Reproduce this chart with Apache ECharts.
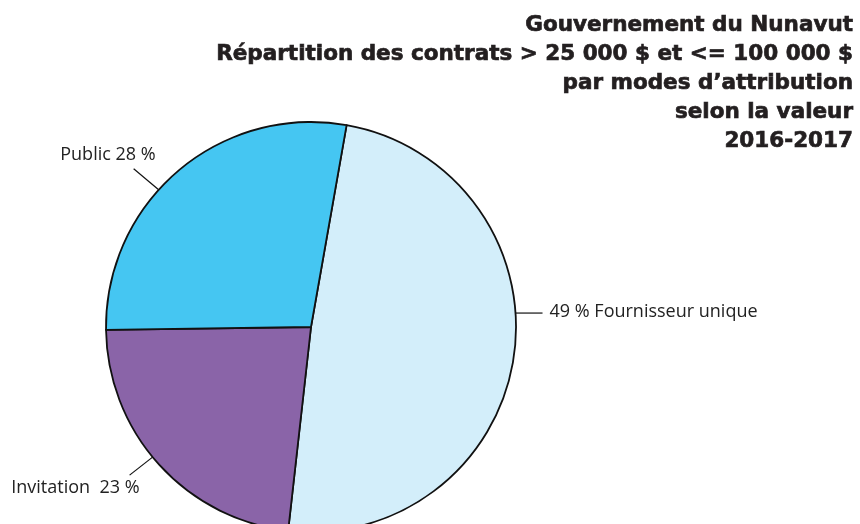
<!DOCTYPE html>
<html>
<head>
<meta charset="utf-8">
<script src="https://cdn.jsdelivr.net/npm/echarts@6/dist/echarts.min.js"></script>
<style>
html,body{margin:0;padding:0;background:#fff;}
#chart{width:860px;height:524px;}
</style>
</head>
<body>
<div id="chart"></div>
<script>
// ---- data ----
var titleLines = [
  'Gouvernement du Nunavut',
  'Répartition des contrats > 25 000 $ et <= 100 000 $',
  'par modes d\u2019attribution',
  'selon la valeur',
  '2016-2017'
];
var categories = ['Fournisseur unique', 'Invitation', 'Public'];
var shares = [49, 23, 28];           // %
var labelTemplates = ['{c} % {b}', '{b}  {c} %', '{b} {c} %'];

// ---- styles / layout ----
var colors = ['#d3eefa', '#8a64a8', '#45c6f2'];
var CX = 311, CY = 327, R = 205;
var labelPlace = [
  {ang: 3.9,   dx: 27,  dy: 0,   tx: 7,   ty: -1, align: 'left'},
  {ang: 219.4, dx: -23, dy: 18,  tx: 10,  ty: 13, align: 'right'},
  {ang: 138,   dx: -25, dy: -21, tx: 22,  ty: -14, align: 'right'}
];

var chart = echarts.init(document.getElementById('chart'), null, {renderer: 'canvas'});
var data = categories.map(function (c, i) {
  return {
    name: c, value: shares[i],
    itemStyle: {color: colors[i]},
    label: {formatter: labelTemplates[i]}
  };
});

chart.setOption({
  animation: false,
  backgroundColor: '#fff',
  graphic: [{
    type: 'text',
    x: 853, y: 11,
    silent: true,
    style: {
      text: titleLines.join('\n'),
      align: 'right', verticalAlign: 'top',
      font: 'bold 21.5px "DejaVu Sans"',
      lineHeight: 29,
      fill: '#231f20',
      stroke: '#231f20', lineWidth: 0.7
    }
  }],
  series: [{
    type: 'pie',
    center: [CX, CY],
    radius: R,
    startAngle: 80,
    clockwise: true,
    avoidLabelOverlap: false,
    silent: true,
    itemStyle: {borderColor: '#111', borderWidth: 1.8},
    label: {
      show: true, position: 'outside',
      fontFamily: 'Open Sans', fontSize: 18, color: '#222'
    },
    labelLine: {show: true, lineStyle: {color: '#111', width: 1.2}},
    labelLayout: function (p) {
      var s = labelPlace[p.dataIndex];
      var a = s.ang * Math.PI / 180;
      var ex = CX + R * Math.cos(a), ey = CY - R * Math.sin(a);
      var lx = ex + s.dx, ly = ey + s.dy;
      return {
        x: lx + s.tx, y: ly + s.ty,
        align: s.align, verticalAlign: 'middle',
        labelLinePoints: [[ex, ey], [lx, ly], [lx, ly]]
      };
    },
    data: data
  }]
});
</script>
</body>
</html>
